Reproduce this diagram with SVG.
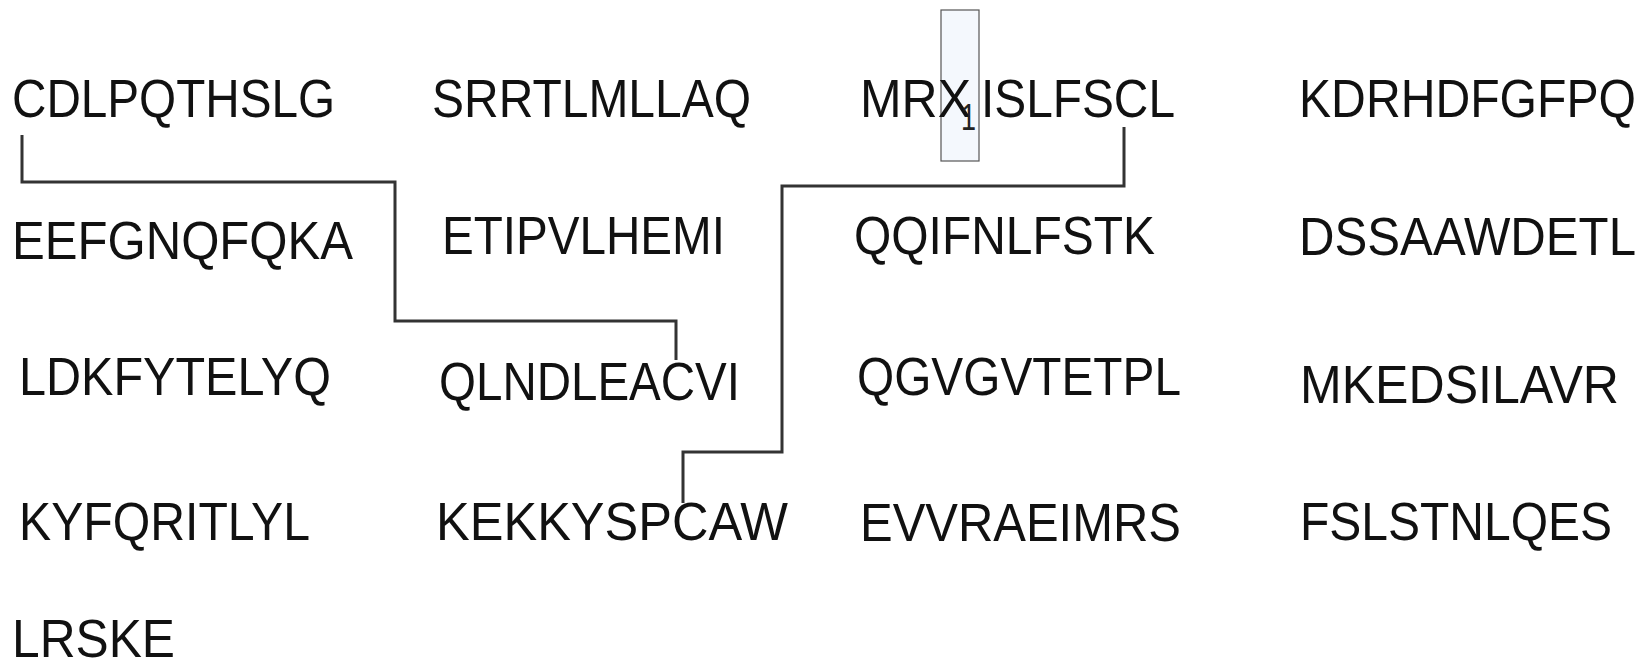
<svg xmlns="http://www.w3.org/2000/svg" width="1646" height="661" viewBox="0 0 1646 661">
<style>
.seq{font-family:"Liberation Sans",Arial,sans-serif;font-size:53px;fill:#111}
.sub{font-family:"Liberation Sans",Arial,sans-serif;font-size:36px;fill:#222}
.conn{fill:none;stroke:#333;stroke-width:3}
.hl{fill:#f4f8fd;stroke:#555;stroke-width:1.2}
</style>
<rect width="1646" height="661" fill="#fff"/>
<g id="highlight"><rect class="hl" x="941" y="10" width="38" height="151"/></g>
<g id="connectors">
<path class="conn" d="M22,135 V182 H395 V321 H676 V360"/>
<path class="conn" d="M1124,127 V186 H782 V452 H683 V503"/>
</g>
<g id="n1"><text class="seq" x="12" y="117" textLength="323" lengthAdjust="spacingAndGlyphs">CDLPQTHSLG</text></g>
<g id="n2"><text class="seq" x="432" y="117" textLength="319" lengthAdjust="spacingAndGlyphs">SRRTLMLLAQ</text></g>
<g id="n3"><text class="seq" x="860" y="117" textLength="111" lengthAdjust="spacingAndGlyphs">MRX</text><text class="sub" x="961" y="130" textLength="15" lengthAdjust="spacingAndGlyphs">1</text><text class="seq" x="981" y="117" textLength="194" lengthAdjust="spacingAndGlyphs">ISLFSCL</text></g>
<g id="n4"><text class="seq" x="1299" y="117" textLength="337" lengthAdjust="spacingAndGlyphs">KDRHDFGFPQ</text></g>
<g id="n5"><text class="seq" x="12" y="259" textLength="341" lengthAdjust="spacingAndGlyphs">EEFGNQFQKA</text></g>
<g id="n6"><text class="seq" x="442" y="254" textLength="283" lengthAdjust="spacingAndGlyphs">ETIPVLHEMI</text></g>
<g id="n7"><text class="seq" x="854" y="254" textLength="301" lengthAdjust="spacingAndGlyphs">QQIFNLFSTK</text></g>
<g id="n8"><text class="seq" x="1299" y="255" textLength="337" lengthAdjust="spacingAndGlyphs">DSSAAWDETL</text></g>
<g id="n9"><text class="seq" x="19" y="395" textLength="312" lengthAdjust="spacingAndGlyphs">LDKFYTELYQ</text></g>
<g id="n10"><text class="seq" x="439" y="400" textLength="301" lengthAdjust="spacingAndGlyphs">QLNDLEACVI</text></g>
<g id="n11"><text class="seq" x="857" y="395" textLength="324" lengthAdjust="spacingAndGlyphs">QGVGVTETPL</text></g>
<g id="n12"><text class="seq" x="1300" y="403" textLength="319" lengthAdjust="spacingAndGlyphs">MKEDSILAVR</text></g>
<g id="n13"><text class="seq" x="19" y="540" textLength="291" lengthAdjust="spacingAndGlyphs">KYFQRITLYL</text></g>
<g id="n14"><text class="seq" x="436" y="540" textLength="352" lengthAdjust="spacingAndGlyphs">KEKKYSPCAW</text></g>
<g id="n15"><text class="seq" x="860" y="541" textLength="321" lengthAdjust="spacingAndGlyphs">EVVRAEIMRS</text></g>
<g id="n16"><text class="seq" x="1300" y="540" textLength="312" lengthAdjust="spacingAndGlyphs">FSLSTNLQES</text></g>
<g id="n17"><text class="seq" x="12" y="657" textLength="163" lengthAdjust="spacingAndGlyphs">LRSKE</text></g>
</svg>
